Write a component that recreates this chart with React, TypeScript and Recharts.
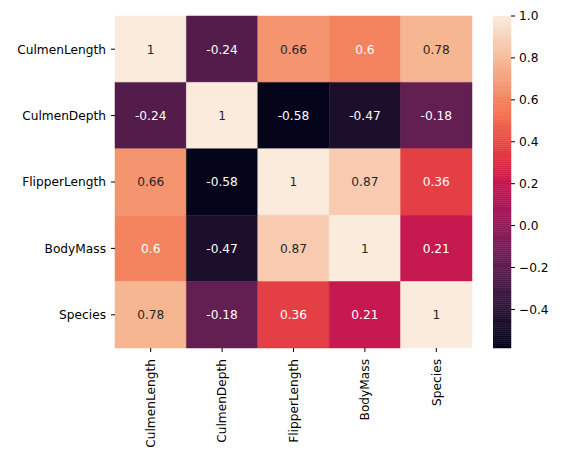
import React from 'react';
import { ComposedChart, XAxis, YAxis, ReferenceArea } from 'recharts';

// correlation matrix of the penguin features
const labels = ['CulmenLength', 'CulmenDepth', 'FlipperLength', 'BodyMass', 'Species'];
const culmenLength = [1, -0.24, 0.66, 0.6, 0.78];
const culmenDepth = [-0.24, 1, -0.58, -0.47, -0.18];
const flipperLength = [0.66, -0.58, 1, 0.87, 0.36];
const bodyMass = [0.6, -0.47, 0.87, 1, 0.21];
const species = [0.78, -0.18, 0.36, 0.21, 1];
const rows = [culmenLength, culmenDepth, flipperLength, bodyMass, species];

const colorbarTicks = [-0.4, -0.2, 0, 0.2, 0.4, 0.6, 0.8, 1.0];
const vmin = -0.584;
const vmax = 1;

// seaborn "rocket" colormap, coarse stops
const rocketStops: [number, string][] = [
  [0, '#03051a'],
  [1 / 7, '#35193e'],
  [2 / 7, '#701f57'],
  [3 / 7, '#ad1759'],
  [0.5, '#c5194f'],
  [4 / 7, '#e13342'],
  [5 / 7, '#f37651'],
  [6 / 7, '#f6b48f'],
  [1, '#faebdd'],
];

const hexToRgb = (h: string) => [1, 3, 5].map((i) => parseInt(h.slice(i, i + 2), 16));

function rocketRgb(t: number): number[] {
  t = Math.max(0, Math.min(1, t));
  for (let i = 1; i < rocketStops.length; i++) {
    const [p1, c1] = rocketStops[i];
    const [p0, c0] = rocketStops[i - 1];
    if (t <= p1) {
      const f = (t - p0) / (p1 - p0);
      const a = hexToRgb(c0);
      const b = hexToRgb(c1);
      return a.map((v, k) => Math.round(v + (b[k] - v) * f));
    }
  }
  return hexToRgb(rocketStops[rocketStops.length - 1][1]);
}

const toT = (v: number) => (v - vmin) / (vmax - vmin);
const colorFor = (v: number) => `rgb(${rocketRgb(toT(v)).join(',')})`;

// same rule as seaborn: relative luminance > .408 -> dark text
function textColorFor(v: number) {
  const lin = rocketRgb(toT(v)).map((c) => {
    const s = c / 255;
    return s <= 0.03928 ? s / 12.92 : Math.pow((s + 0.055) / 1.055, 2.4);
  });
  const lum = 0.2126 * lin[0] + 0.7152 * lin[1] + 0.0722 * lin[2];
  return lum > 0.408 ? '#262626' : '#ffffff';
}

// colorbar drawn as thin bands between these levels
const barLevels: number[] = [];
for (let i = 0; i <= 160; i++) barLevels.push(vmin + ((vmax - vmin) * i) / 160);

const centers = labels.map((_, i) => i + 0.5);
const font = "'DejaVu Sans', sans-serif";
const fs = 12.2;

const XTick = (props: any) => {
  const { x, y, payload } = props;
  return (
    <text
      transform={`translate(${x},${y}) rotate(-90)`}
      textAnchor="end"
      dy="0.35em"
      fontSize={fs}
      fill="#000"
    >
      {labels[Math.floor(payload.value)]}
    </text>
  );
};

const fmtBar = (v: number) => {
  const s = Math.abs(v).toFixed(1);
  return v < -1e-9 ? '\u2212' + s : s;
};

export default function App() {
  return (
    <div style={{ position: 'absolute', left: 0, top: 0, width: 563, height: 464, background: '#fff', fontFamily: font }}>
      <div style={{ position: 'absolute', left: 0, top: 0 }}>
        <ComposedChart width={563} height={464} margin={{ top: 16, right: 91, bottom: 0, left: 0 }}>
          <XAxis
            type="number"
            dataKey="x"
            domain={[0, 5]}
            ticks={centers}
            interval={0}
            height={116}
            axisLine={false}
            tickSize={4}
            tickMargin={7}
            tickLine={{ stroke: '#000', strokeWidth: 1 }}
            tick={<XTick />}
            allowDataOverflow
          />
          <YAxis
            type="number"
            dataKey="y"
            domain={[0, 5]}
            reversed
            ticks={centers}
            interval={0}
            width={115}
            axisLine={false}
            tickSize={4}
            tickMargin={5}
            tickLine={{ stroke: '#000', strokeWidth: 1 }}
            tick={{ fill: '#000', fontSize: fs }}
            tickFormatter={(v: number) => labels[Math.floor(v)]}
            allowDataOverflow
          />
          {rows.map((row, r) =>
            row.map((v, c) => (
              <ReferenceArea
                key={`cell-${r}-${c}`}
                x1={c}
                x2={c + 1}
                y1={r}
                y2={r + 1}
                fill={colorFor(v)}
                fillOpacity={1}
                stroke={colorFor(v)}
                strokeWidth={0.5}
                label={{ value: String(v), position: 'center', fill: textColorFor(v), fontSize: fs }}
              />
            ))
          )}
        </ComposedChart>
      </div>
      <div style={{ position: 'absolute', left: 493, top: 0 }}>
        <ComposedChart width={70} height={464} margin={{ top: 16, right: 0, bottom: 116, left: 0 }}>
          <XAxis type="number" dataKey="x" domain={[0, 1]} height={0} tick={false} axisLine={false} tickLine={false} allowDataOverflow />
          <YAxis
            type="number"
            dataKey="y"
            orientation="right"
            domain={[vmin, vmax]}
            ticks={colorbarTicks}
            interval={0}
            width={52}
            axisLine={false}
            tickSize={4}
            tickMargin={4}
            tickLine={{ stroke: '#000', strokeWidth: 1 }}
            tick={{ fill: '#000', fontSize: fs, textAnchor: 'start' }}
            tickFormatter={fmtBar}
            allowDataOverflow
          />
          {barLevels.slice(0, -1).map((lo, i) => {
            const c = colorFor((lo + barLevels[i + 1]) / 2);
            return (
              <ReferenceArea
                key={`band-${i}`}
                x1={0}
                x2={1}
                y1={lo}
                y2={barLevels[i + 1]}
                fill={c}
                fillOpacity={1}
                stroke={c}
                strokeWidth={0.5}
              />
            );
          })}
        </ComposedChart>
      </div>
    </div>
  );
}
